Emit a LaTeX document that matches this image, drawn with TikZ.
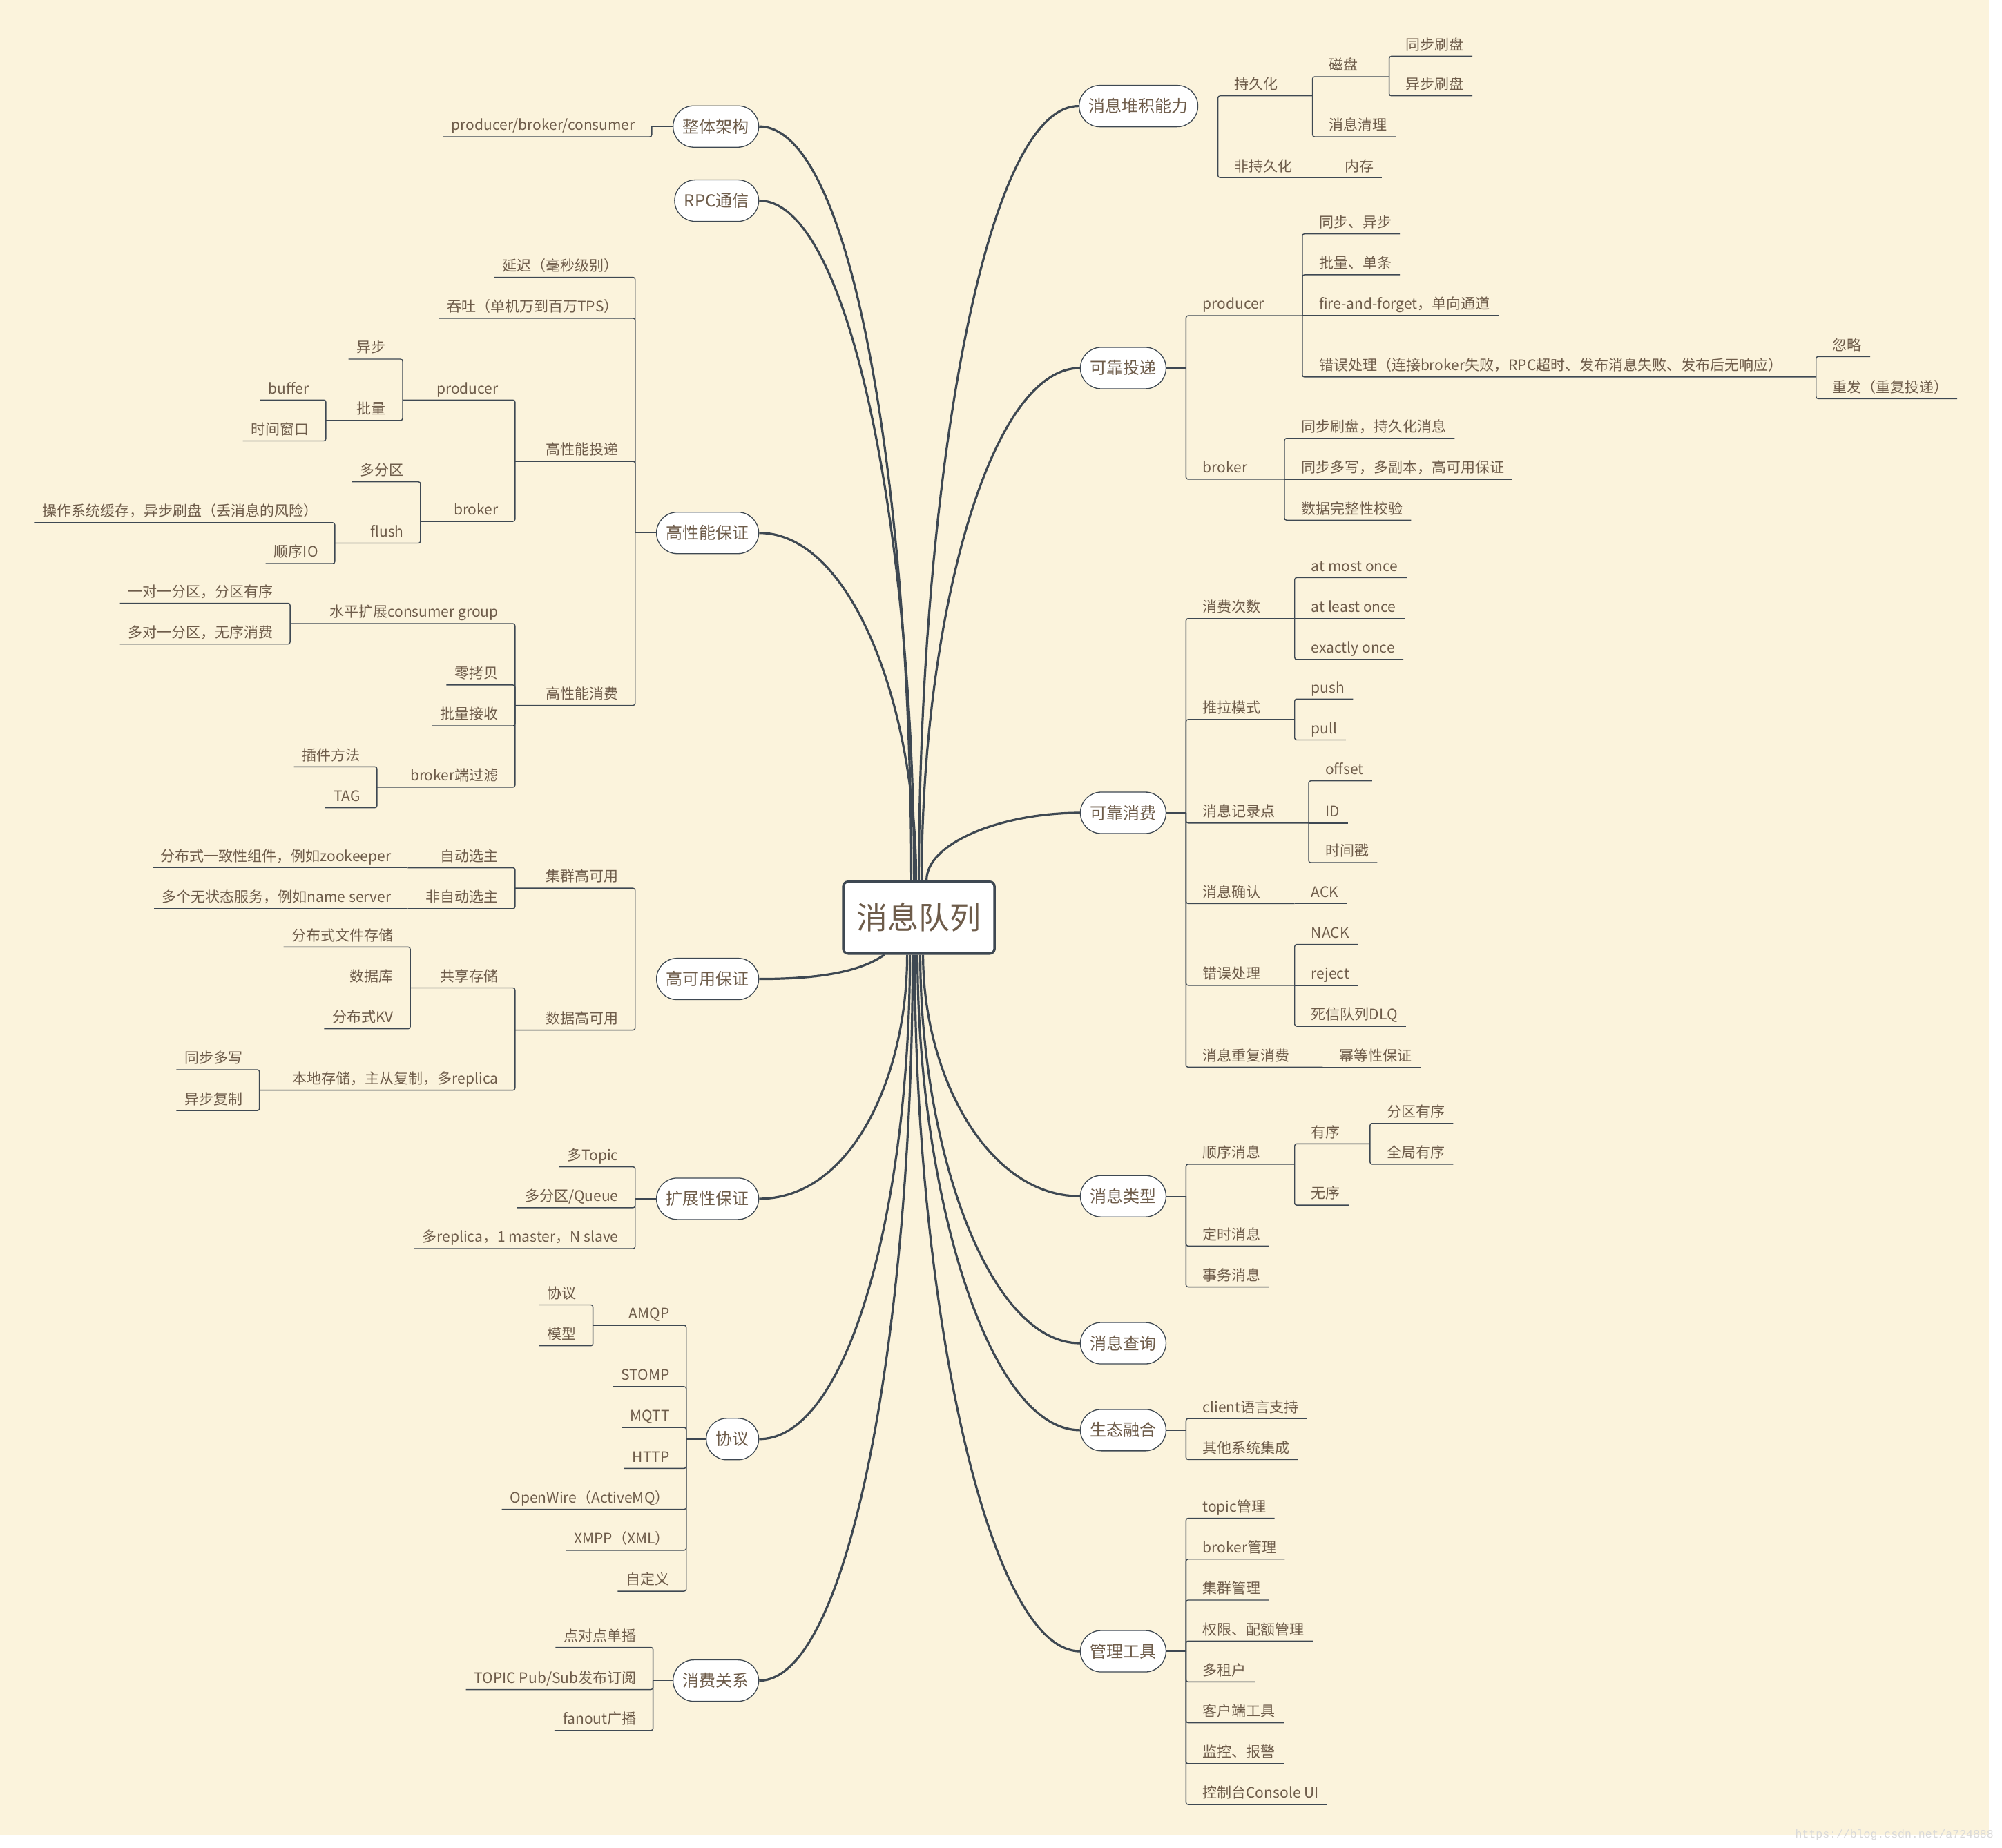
\documentclass[tikz,border=0pt]{standalone}
\usepackage{fontspec}
\setmainfont{Noto Sans CJK SC}
\newfontfamily\markfont{Liberation Mono}
\usepackage{xcolor}
\usepackage{tikz}
\definecolor{paper}{HTML}{FBF3DC}
\definecolor{ink}{HTML}{3E4852}
\definecolor{word}{HTML}{6E5C4A}
\tikzset{
  link/.style={draw=ink, line width=1.4pt, rounded corners=3pt},
  branch/.style={draw=ink, line width=3.2pt},
  item/.style={inner xsep=12pt, inner ysep=4pt, text height=17pt, text depth=5pt,
    text=word, font=\fontsize{21}{21}\selectfont},
  ritem/.style={item, anchor=south west, xshift=12pt},
  litem/.style={item, anchor=south east, xshift=-12pt},
  topic/.style={draw=ink, line width=1.3pt, fill=white, rounded corners=30pt,
    minimum height=60pt, inner xsep=14pt, text height=22pt, text depth=4pt,
    text=word, font=\fontsize{24}{24}\selectfont},
  root/.style={draw=ink, line width=3.5pt, fill=white, rounded corners=7pt,
    minimum width=219pt, minimum height=104pt, text height=38pt, text depth=4pt,
    text=word, font=\fontsize{45}{45}\selectfont}
}
\newcommand{\stem}[3]{%
  \coordinate (#1-e) at (#2,#3);
  \draw[link] (#1) -- (#1-e);
  \expandafter\xdef\csname Y#1\endcsname{#3}%
}
\newcommand{\joint}[3]{%
  \ifdim #3pt=\csname Y#2\endcsname pt
    \draw[link] (#2-e) -- (#1-e);
  \else
    \draw[link] (#2-e) |- (#1-e);
  \fi
  \expandafter\xdef\csname Y#1\endcsname{#3}%
}
\newcommand{\ritem}[5]{%
  \node[ritem] (#1) at (#2-e |- 0,#3) {#4};
  \ifx\relax#5\relax
    \coordinate (#1-e) at (#1.south east);
  \else
    \coordinate (#1-e) at (#5,#3);
  \fi
  \joint{#1}{#2}{#3}
}
\newcommand{\litem}[5]{%
  \node[litem] (#1) at (#2-e |- 0,#3) {#4};
  \ifx\relax#5\relax
    \coordinate (#1-e) at (#1.south west);
  \else
    \coordinate (#1-e) at (#5,#3);
  \fi
  \joint{#1}{#2}{#3}
}

\begin{document}
\begin{tikzpicture}[x=1.8506pt, y=-1.8506pt]

\useasboundingbox (0,0) rectangle (1566.5,1445.5);
\fill[white] (0,0) rectangle (1566.5,1445.5);
\fill[paper] (0,0) rectangle (1556.2,1435.8);

% Root
\node[root] (MQ) at (719,718) {消息队列};

% Left topics
\node[topic, anchor=east] (Arch) at (594,99) {整体架构};
\node[topic, anchor=east] (RPC) at (594,157) {RPC通信};
\node[topic, anchor=east] (Perf) at (594,417) {高性能保证};
\node[topic, anchor=east] (HA) at (594,766) {高可用保证};
\node[topic, anchor=east] (Scale) at (594,938) {扩展性保证};
\node[topic, anchor=east] (Proto) at (594,1126) {协议};
\node[topic, anchor=east] (Rel) at (594,1315) {消费关系};

% Right topics
\node[topic, anchor=west] (Pile) at (844,83) {消息堆积能力};
\node[topic, anchor=west] (Deliv) at (845,288) {可靠投递};
\node[topic, anchor=west] (Cons) at (845,636) {可靠消费};
\node[topic, anchor=west] (Type) at (845,936) {消息类型};
\node[topic, anchor=west] (Query) at (845,1051) {消息查询};
\node[topic, anchor=west] (Eco) at (845,1119) {生态融合};
\node[topic, anchor=west] (Tool) at (845,1292) {管理工具};

% Branches from the root
\draw[branch] ([xshift=-11pt]MQ.north) .. controls +(0,-295) and +(75,0) .. (Arch.east);
\draw[branch] ([xshift=-7pt]MQ.north) .. controls +(0,-266) and +(72,0) .. (RPC.east);
\draw[branch] ([xshift=-4pt]MQ.north) .. controls +(0,-137) and +(72,0) .. (Perf.east);
\draw[branch] ([xshift=-50pt]MQ.south) .. controls +(-20,14) and +(45,0) .. (HA.east);
\draw[branch] ([xshift=-17pt]MQ.south) .. controls +(0,96) and +(72,0) .. (Scale.east);
\draw[branch] ([xshift=-13pt]MQ.south) .. controls +(0,190) and +(72,0) .. (Proto.east);
\draw[branch] ([xshift=-9pt]MQ.south) .. controls +(0,285) and +(72,0) .. (Rel.east);
\draw[branch] (MQ.north) .. controls +(0,-300) and +(-75,0) .. (Pile.west);
\draw[branch] ([xshift=4pt]MQ.north) .. controls +(0,-200) and +(-72,0) .. (Deliv.west);
\draw[branch] ([xshift=11pt]MQ.north) .. controls +(0,-30) and +(-60,0) .. (Cons.west);
\draw[branch] ([xshift=6pt]MQ.south) .. controls +(0,95) and +(-72,0) .. (Type.west);
\draw[branch] ([xshift=2pt]MQ.south) .. controls +(0,150) and +(-72,0) .. (Query.west);
\draw[branch] ([xshift=-2pt]MQ.south) .. controls +(0,185) and +(-72,0) .. (Eco.west);
\draw[branch] ([xshift=-6pt]MQ.south) .. controls +(0,273) and +(-72,0) .. (Tool.west);

% Message piling
\stem{Pile}{953}{83}
\ritem{Pile-1}{Pile}{75}{持久化}{1027}
\ritem{Pile-1-1}{Pile-1}{60}{磁盘}{1087}
\ritem{Pile-1-1-1}{Pile-1-1}{44}{同步刷盘}{}
\ritem{Pile-1-1-2}{Pile-1-1}{75}{异步刷盘}{}
\ritem{Pile-1-2}{Pile-1}{107}{消息清理}{}
\ritem{Pile-2}{Pile}{139}{非持久化}{1039}
\ritem{Pile-2-1}{Pile-2}{139}{内存}{}

% Reliable delivery
\stem{Deliv}{928}{288}
\ritem{Deliv-1}{Deliv}{247}{producer}{1019}
\ritem{Deliv-1-1}{Deliv-1}{183}{同步、异步}{}
\ritem{Deliv-1-2}{Deliv-1}{215}{批量、单条}{}
\ritem{Deliv-1-3}{Deliv-1}{247}{fire-and-forget，单向通道}{}
\ritem{Deliv-1-4}{Deliv-1}{295}{错误处理（连接broker失败，RPC超时、发布消息失败、发布后无响应）}{1421}
\ritem{Deliv-1-4-1}{Deliv-1-4}{279}{忽略}{}
\ritem{Deliv-1-4-2}{Deliv-1-4}{312}{重发（重复投递）}{}
\ritem{Deliv-2}{Deliv}{375}{broker}{1005}
\ritem{Deliv-2-1}{Deliv-2}{343}{同步刷盘，持久化消息}{}
\ritem{Deliv-2-2}{Deliv-2}{375}{同步多写，多副本，高可用保证}{}
\ritem{Deliv-2-3}{Deliv-2}{407}{数据完整性校验}{}

% Reliable consumption
\stem{Cons}{928}{636}
\ritem{Cons-1}{Cons}{484}{消费次数}{1013}
\ritem{Cons-1-1}{Cons-1}{452}{at most once}{}
\ritem{Cons-1-2}{Cons-1}{484}{at least once}{}
\ritem{Cons-1-3}{Cons-1}{516}{exactly once}{}
\ritem{Cons-2}{Cons}{563}{推拉模式}{1013}
\ritem{Cons-2-1}{Cons-2}{547}{push}{}
\ritem{Cons-2-2}{Cons-2}{579}{pull}{}
\ritem{Cons-3}{Cons}{644}{消息记录点}{1024}
\ritem{Cons-3-1}{Cons-3}{611}{offset}{}
\ritem{Cons-3-2}{Cons-3}{644}{ID}{}
\ritem{Cons-3-3}{Cons-3}{675}{时间戳}{}
\ritem{Cons-4}{Cons}{707}{消息确认}{1013}
\ritem{Cons-4-1}{Cons-4}{707}{ACK}{}
\ritem{Cons-5}{Cons}{771}{错误处理}{1013}
\ritem{Cons-5-1}{Cons-5}{739}{NACK}{}
\ritem{Cons-5-2}{Cons-5}{771}{reject}{}
\ritem{Cons-5-3}{Cons-5}{803}{死信队列DLQ}{}
\ritem{Cons-6}{Cons}{835}{消息重复消费}{1035}
\ritem{Cons-6-1}{Cons-6}{835}{幂等性保证}{}

% Message types
\stem{Type}{928}{936}
\ritem{Type-1}{Type}{911}{顺序消息}{1013}
\ritem{Type-1-1}{Type-1}{895}{有序}{1072}
\ritem{Type-1-1-1}{Type-1-1}{879}{分区有序}{}
\ritem{Type-1-1-2}{Type-1-1}{911}{全局有序}{}
\ritem{Type-1-2}{Type-1}{943}{无序}{}
\ritem{Type-2}{Type}{975}{定时消息}{}
\ritem{Type-3}{Type}{1007}{事务消息}{}

% Ecosystem
\stem{Eco}{928}{1119}
\ritem{Eco-1}{Eco}{1110}{client语言支持}{}
\ritem{Eco-2}{Eco}{1142}{其他系统集成}{}

% Tools
\stem{Tool}{928}{1292}
\foreach \t [count=\i] in {topic管理, broker管理, 集群管理, 权限、配额管理, 多租户, 客户端工具, 监控、报警, 控制台Console UI}
{
  \pgfmathtruncatemacro{\y}{1156+32*\i}
  \ritem{Tool-\i}{Tool}{\y}{\t}{}
}

% Architecture
\stem{Arch}{510}{99}
\litem{Arch-1}{Arch}{107}{producer/broker/consumer}{}

% Performance
\stem{Perf}{497}{417}
\litem{Perf-1}{Perf}{217}{延迟（毫秒级别）}{}
\litem{Perf-2}{Perf}{249}{吞吐（单机万到百万TPS）}{}
\litem{Perf-3}{Perf}{361}{高性能投递}{403}
\litem{Perf-3-1}{Perf-3}{313}{producer}{315}
\litem{Perf-3-1-1}{Perf-3-1}{281}{异步}{}
\litem{Perf-3-1-2}{Perf-3-1}{329}{批量}{255}
\litem{Perf-3-1-2-1}{Perf-3-1-2}{313}{buffer}{}
\litem{Perf-3-1-2-2}{Perf-3-1-2}{345}{时间窗口}{}
\litem{Perf-3-2}{Perf-3}{408}{broker}{329}
\litem{Perf-3-2-1}{Perf-3-2}{377}{多分区}{}
\litem{Perf-3-2-2}{Perf-3-2}{425}{flush}{262}
\litem{Perf-3-2-2-1}{Perf-3-2-2}{409}{操作系统缓存，异步刷盘（丢消息的风险）}{}
\litem{Perf-3-2-2-2}{Perf-3-2-2}{441}{顺序IO}{}
\litem{Perf-4}{Perf}{552}{高性能消费}{403}
\litem{Perf-4-1}{Perf-4}{488}{水平扩展consumer group}{227}
\litem{Perf-4-1-1}{Perf-4-1}{472}{一对一分区，分区有序}{}
\litem{Perf-4-1-2}{Perf-4-1}{504}{多对一分区，无序消费}{}
\litem{Perf-4-2}{Perf-4}{536}{零拷贝}{}
\litem{Perf-4-3}{Perf-4}{568}{批量接收}{}
\litem{Perf-4-4}{Perf-4}{616}{broker端过滤}{295}
\litem{Perf-4-4-1}{Perf-4-4}{600}{插件方法}{}
\litem{Perf-4-4-2}{Perf-4-4}{632}{TAG}{}

% High availability
\stem{HA}{497}{766}
\litem{HA-1}{HA}{695}{集群高可用}{403}
\litem{HA-1-1}{HA-1}{679}{自动选主}{319}
\litem{HA-1-1-1}{HA-1-1}{679}{分布式一致性组件，例如zookeeper}{}
\litem{HA-1-2}{HA-1}{711}{非自动选主}{319}
\litem{HA-1-2-1}{HA-1-2}{711}{多个无状态服务，例如name server}{}
\litem{HA-2}{HA}{806}{数据高可用}{403}
\litem{HA-2-1}{HA-2}{773}{共享存储}{321}
\litem{HA-2-1-1}{HA-2-1}{741}{分布式文件存储}{}
\litem{HA-2-1-2}{HA-2-1}{773}{数据库}{}
\litem{HA-2-1-3}{HA-2-1}{805}{分布式KV}{}
\litem{HA-2-2}{HA-2}{853}{本地存储，主从复制，多replica}{203}
\litem{HA-2-2-1}{HA-2-2}{837}{同步多写}{}
\litem{HA-2-2-2}{HA-2-2}{869}{异步复制}{}

% Scalability
\stem{Scale}{497}{938}
\litem{Scale-1}{Scale}{913}{多Topic}{}
\litem{Scale-2}{Scale}{945}{多分区/Queue}{}
\litem{Scale-3}{Scale}{977}{多replica，1 master，N slave}{}

% Protocols
\stem{Proto}{537}{1126}
\litem{Proto-1}{Proto}{1037}{AMQP}{464}
\litem{Proto-1-1}{Proto-1}{1021}{协议}{}
\litem{Proto-1-2}{Proto-1}{1053}{模型}{}
\foreach \t [count=\i from 2] in {STOMP, MQTT, HTTP, OpenWire（ActiveMQ）, XMPP（XML）, 自定义}
{
  \pgfmathtruncatemacro{\y}{1021+32*\i}
  \litem{Proto-\i}{Proto}{\y}{\t}{}
}

% Consumption relations
\stem{Rel}{511}{1315}
\litem{Rel-1}{Rel}{1289}{点对点单播}{}
\litem{Rel-2}{Rel}{1322}{TOPIC Pub/Sub发布订阅}{}
\litem{Rel-3}{Rel}{1354}{fanout广播}{}

% Watermark
\node[anchor=base east, inner sep=0pt, text=gray!30, font=\markfont\fontsize{16.5}{16.5}\selectfont]
  (mark) at (1560,1438.4) {https://blog.csdn.net/a724888};

\end{tikzpicture}
\end{document}
